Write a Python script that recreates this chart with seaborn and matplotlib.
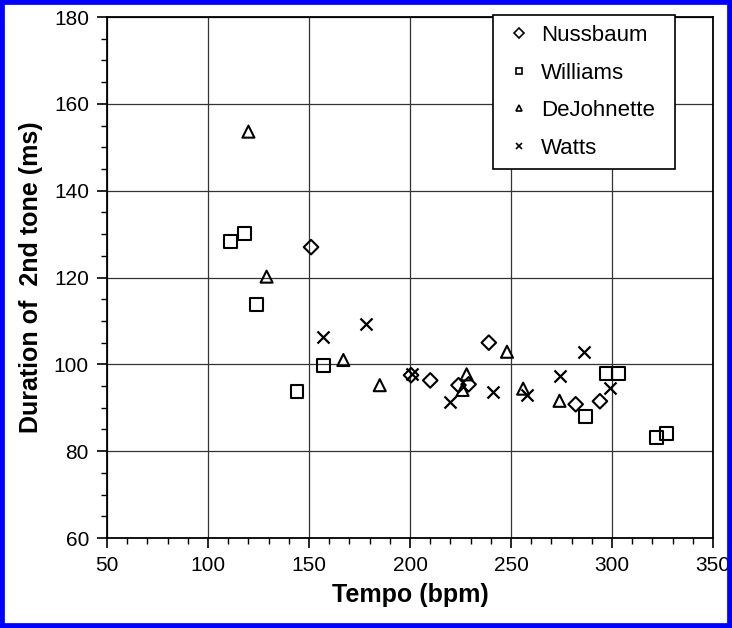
import pandas as pd
import matplotlib.pyplot as plt
import seaborn as sns
from matplotlib.lines import Line2D
from matplotlib.patches import Rectangle
from matplotlib.ticker import MultipleLocator

# values
nussbaum_tempo = [151, 200.5, 210, 224, 229, 239, 282, 294]
nussbaum_dur = [127, 97.5, 96.3, 95.2, 95.4, 105, 90.8, 91.5]

williams_tempo = [111, 118, 124, 144, 157, 287, 297, 303, 322, 327]
williams_dur = [128.3, 130.1, 113.8, 93.7, 99.8, 87.9, 97.9, 97.9, 83.1, 84.1]

dejohnette_tempo = [120, 129, 167, 185, 226, 228, 248, 256, 274]
dejohnette_dur = [153.6, 120.2, 101.0, 95.2, 94.1, 97.7, 102.9, 94.4, 91.6]

watts_tempo = [157, 178, 201, 220, 241, 258, 274, 286, 299]
watts_dur = [106.4, 109.4, 97.8, 91.4, 93.6, 92.9, 97.3, 102.8, 94.6]

players = ["Nussbaum", "Williams", "DeJohnette", "Watts"]
player_markers = {"Nussbaum": "D", "Williams": "s", "DeJohnette": "^", "Watts": "x"}
marker_sizes = {"Nussbaum": 55, "Williams": 85, "DeJohnette": 75, "Watts": 75}

frames = []
for name, t, d in [("Nussbaum", nussbaum_tempo, nussbaum_dur),
                   ("Williams", williams_tempo, williams_dur),
                   ("DeJohnette", dejohnette_tempo, dejohnette_dur),
                   ("Watts", watts_tempo, watts_dur)]:
    frames.append(pd.DataFrame({"tempo": t, "duration": d, "player": name}))
df = pd.concat(frames, ignore_index=True)

sns.set_style("white")
plt.rcParams["font.family"] = ["Liberation Sans", "DejaVu Sans"]
plt.rcParams["text.color"] = "black"
plt.rcParams["axes.labelcolor"] = "black"

fig = plt.figure(figsize=(7.32, 6.28), dpi=100)
ax = fig.add_axes([0.1462, 0.1433, 0.8279, 0.8296])

for name in players:
    sub = df[df["player"] == name]
    if player_markers[name] == "x":
        sns.scatterplot(data=sub, x="tempo", y="duration", marker="x", color="black",
                        s=marker_sizes[name], linewidth=1.6, ax=ax, zorder=3)
    else:
        sns.scatterplot(data=sub, x="tempo", y="duration", marker=player_markers[name],
                        facecolor="none", edgecolor="black", s=marker_sizes[name],
                        linewidth=1.5, ax=ax, zorder=3)

ax.set_xlim(50, 350)
ax.set_ylim(60, 180)
ax.xaxis.set_major_locator(MultipleLocator(50))
ax.xaxis.set_minor_locator(MultipleLocator(10))
ax.yaxis.set_major_locator(MultipleLocator(20))
ax.yaxis.set_minor_locator(MultipleLocator(5))
ax.grid(True, which="major", color="#333333", linewidth=0.9)
ax.set_axisbelow(True)
ax.tick_params(which="major", direction="out", length=7, width=1.2, colors="black",
               labelsize=15, pad=6, bottom=True, left=True)
ax.tick_params(which="minor", direction="out", length=4, width=1, colors="black",
               bottom=True, left=True)
for sp in ax.spines.values():
    sp.set_color("black")
    sp.set_linewidth(1.3)

ax.set_xlabel("Tempo (bpm)", fontsize=18, fontweight="bold", labelpad=6, color="black")
ax.set_ylabel("Duration of  2nd tone (ms)", fontsize=18, fontweight="bold", labelpad=8,
              color="black")

handles = [Line2D([], [], linestyle="none", marker=player_markers[n], markersize=5,
                  markerfacecolor="none", markeredgecolor="black", color="black",
                  markeredgewidth=1.2) for n in players]
leg = ax.legend(handles, players, loc="upper left",
                bbox_to_anchor=(0.637, 0.712, 0.300, 0.292), mode="expand",
                fontsize=16, frameon=True, fancybox=False, framealpha=1,
                edgecolor="black", handlelength=1.4, handletextpad=0.3,
                labelspacing=0.75, borderpad=0.45, borderaxespad=0)
leg.get_frame().set_linewidth(1.2)
for txt in leg.get_texts():
    txt.set_color("black")

fig.add_artist(Rectangle((0, 0), 1, 1, transform=fig.transFigure, fill=False,
                         edgecolor="#0000ff", linewidth=7))

fig.savefig("out.png", dpi=100)
